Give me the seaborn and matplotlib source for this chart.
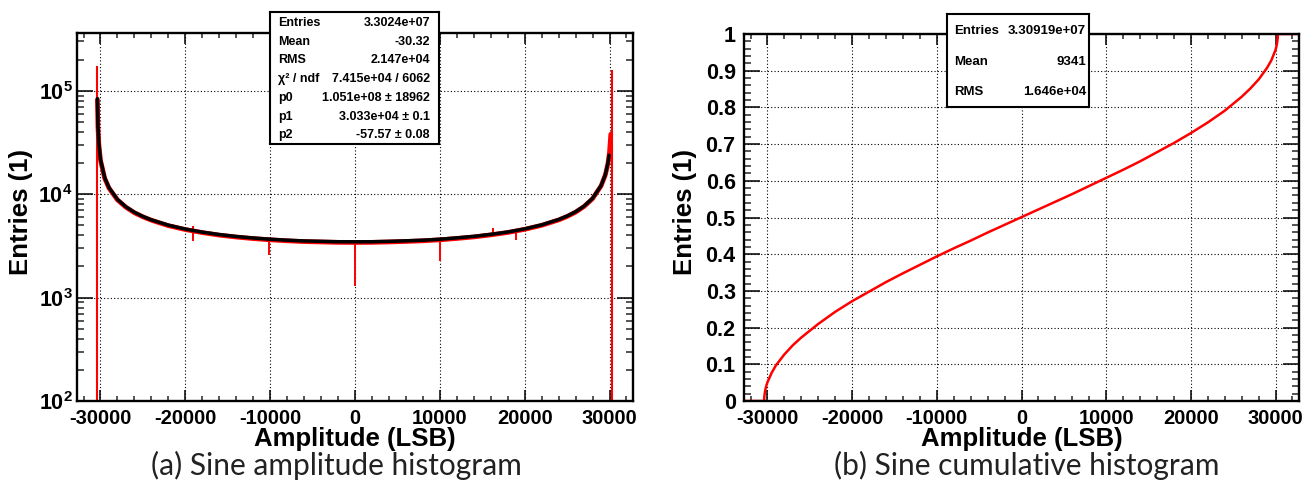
import numpy as np
import pandas as pd
import matplotlib
matplotlib.use("Agg")
import matplotlib.pyplot as plt
import seaborn as sns
from matplotlib.ticker import MultipleLocator, LogLocator, NullFormatter, FixedLocator, FixedFormatter

# ---------------- data ----------------
# (a) amplitude histogram: body of the histogram (red)
hist_x = [-30360, -30300, -30200, -30000, -29500, -29000, -28000, -27000, -26000, -25000,
          -24000, -22000, -20000, -18000, -16000, -14000, -12000, -10000, -8000, -6000,
          -4000, -2000, 0, 2000, 4000, 6000, 8000, 10000, 12000, 14000, 16000, 18000,
          20000, 22000, 24000, 25000, 26000, 27000, 28000, 29000, 29500, 29800, 30000,
          30150]
hist_y = [82000, 45000, 30800, 21300, 14200, 11450, 8800, 7480, 6610, 6040,
          5600, 4960, 4550, 4250, 4020, 3850, 3720, 3620, 3540, 3480,
          3450, 3420, 3410, 3420, 3450, 3490, 3540, 3620, 3730, 3860, 4040, 4260,
          4570, 5000, 5630, 6090, 6700, 7600, 9050, 12000, 15300, 19500, 25600,
          38000]
# edge bins (tall spikes)
spike_x = [-30390, 30280]
spike_top = [175000, 160000]
# isolated missing / extra codes
dip_x = [-19070, -10100, 0, 10020, 16270, 18990]
dip_hi = [4900, 3700, 3460, 3680, 4720, 4320]
dip_lo = [3530, 2570, 1285, 2260, 4080, 3580]
# fit curve (black)
fit_x = [-30360, -30300, -30200, -30000, -29500, -29000, -28000, -27000, -26000, -25000,
         -24000, -22000, -20000, -18000, -16000, -14000, -12000, -10000, -8000, -6000,
         -4000, -2000, 0, 2000, 4000, 6000, 8000, 10000, 12000, 14000, 16000, 18000,
         20000, 22000, 24000, 25000, 26000, 27000, 28000, 29000, 29500, 29800, 29950]
fit_y = [84000, 45500, 31200, 21700, 14400, 11600, 8900, 7550, 6690, 6090,
         5650, 5020, 4600, 4300, 4070, 3900, 3770, 3670, 3590, 3530,
         3500, 3470, 3465, 3470, 3500, 3540, 3590, 3670, 3780, 3910, 4090, 4310,
         4620, 5050, 5690, 6150, 6770, 7670, 9120, 12100, 15400, 19700, 23800]

# (b) cumulative histogram
cum_x = [-32768, -30390, -30360, -30300, -30200, -30000, -29500, -29000, -28000, -27000,
         -26000, -24000, -22000, -20000, -18000, -16000, -14000, -12000, -10000, -8000,
         -6000, -4000, -2000, 0, 2000, 4000, 6000, 8000, 10000, 12000, 14000, 16000,
         18000, 20000, 22000, 24000, 26000, 27000, 28000, 29000, 29500, 30000, 30150,
         30250, 30280, 32768]
cum_y = [0, 0, 0.014, 0.024, 0.036, 0.051, 0.077, 0.097, 0.127, 0.152,
         0.173, 0.210, 0.243, 0.272, 0.298, 0.324, 0.348, 0.371, 0.394, 0.416,
         0.437, 0.459, 0.480, 0.501, 0.522, 0.543, 0.564, 0.586, 0.608, 0.630, 0.653, 0.678,
         0.703, 0.730, 0.759, 0.791, 0.829, 0.851, 0.876, 0.908, 0.928, 0.957, 0.971,
         0.988, 1.0, 1.0]

x_ticks = [-30000, -20000, -10000, 0, 10000, 20000, 30000]
x_ticklabels = ["-30000", "-20000", "-10000", "0", "10000", "20000", "30000"]
log_ticks = [1e2, 1e3, 1e4, 1e5]
log_ticklabels = [r"$\mathbf{10^{2}}$", r"$\mathbf{10^{3}}$", r"$\mathbf{10^{4}}$", r"$\mathbf{10^{5}}$"]
lin_ticks = [0, 0.1, 0.2, 0.3, 0.4, 0.5, 0.6, 0.7, 0.8, 0.9, 1.0]
lin_ticklabels = ["0", "0.1", "0.2", "0.3", "0.4", "0.5", "0.6", "0.7", "0.8", "0.9", "1"]

stats_a_labels = ["Entries", "Mean", "RMS", "\u03c7\u00b2 / ndf", "p0", "p1", "p2"]
stats_a_values = ["3.3024e+07", "-30.32", "2.147e+04", "7.415e+04 / 6062",
                  "1.051e+08 \u00b1 18962", "3.033e+04 \u00b1 0.1", "-57.57 \u00b1 0.08"]
stats_b_labels = ["Entries", "Mean", "RMS"]
stats_b_values = ["3.30919e+07", "9341", "1.646e+04"]

x_label = "Amplitude (LSB)"
y_label = "Entries (1)"
caption_a = "(a) Sine amplitude histogram"
caption_b = "(b) Sine cumulative histogram"

# ---------------- style ----------------
sns.set_theme(style="white")
FONT = ["Liberation Sans", "DejaVu Sans"]
plt.rcParams["font.family"] = FONT
plt.rcParams["font.weight"] = "bold"
plt.rcParams["axes.unicode_minus"] = False
plt.rcParams["mathtext.fontset"] = "custom"
plt.rcParams["mathtext.rm"] = "Liberation Sans:bold"
plt.rcParams["mathtext.bf"] = "Liberation Sans:bold"
plt.rcParams["mathtext.it"] = "Liberation Sans:bold"

W, H = 1311, 492
fig = plt.figure(figsize=(W / 100, H / 100), dpi=100)
fig.patch.set_facecolor("white")


def fr(x0, y0, x1, y1):
    return [x0 / W, 1 - y1 / H, (x1 - x0) / W, (y1 - y0) / H]


ax1 = fig.add_axes(fr(77, 33, 633, 401))
ax2 = fig.add_axes(fr(744, 34, 1299, 401))

XMIN, XMAX = -32768, 32768
grid_kw = dict(color="black", linestyle=(0, (1, 2)), linewidth=0.8)

# ---- panel (a) ----
ax1.set_yscale("log")
df_hist = pd.DataFrame({"x": hist_x, "y": hist_y})
df_fit = pd.DataFrame({"x": fit_x, "y": fit_y})
sns.lineplot(data=df_hist, x="x", y="y", ax=ax1, color="red", linewidth=3.4,
             estimator=None, sort=False, zorder=3)
ax1.vlines(spike_x, 1, spike_top, color="red", linewidth=1.5, zorder=3)
ax1.vlines(dip_x, dip_lo, dip_hi, color="red", linewidth=1.4, zorder=3)
sns.lineplot(data=df_fit, x="x", y="y", ax=ax1, color="black", linewidth=2.5,
             estimator=None, sort=False, zorder=4)
ax1.set_xlim(XMIN, XMAX)
ax1.set_ylim(100, 3.62e5)
ax1.yaxis.set_major_locator(FixedLocator(log_ticks))
ax1.yaxis.set_major_formatter(FixedFormatter(log_ticklabels))
ax1.yaxis.set_minor_locator(LogLocator(base=10, subs=np.arange(2, 10), numticks=20))
ax1.yaxis.set_minor_formatter(NullFormatter())

# ---- panel (b) ----
df_cum = pd.DataFrame({"x": cum_x, "y": cum_y})
sns.lineplot(data=df_cum, x="x", y="y", ax=ax2, color="red", linewidth=1.8,
             estimator=None, sort=False, zorder=3)
ax2.set_xlim(XMIN, XMAX)
ax2.set_ylim(0, 1)
ax2.yaxis.set_major_locator(FixedLocator(lin_ticks))
ax2.yaxis.set_major_formatter(FixedFormatter(lin_ticklabels))
ax2.yaxis.set_minor_locator(MultipleLocator(0.02))

for ax, ylx, ypad in ((ax1, -0.100, 3), (ax2, -0.106, 6)):
    ax.xaxis.set_major_locator(FixedLocator(x_ticks))
    ax.xaxis.set_major_formatter(FixedFormatter(x_ticklabels))
    ax.xaxis.set_minor_locator(MultipleLocator(2000))
    ax.grid(True, which="major", **grid_kw)
    ax.set_axisbelow(False)
    for s in ax.spines.values():
        s.set_linewidth(1.7)
        s.set_color("black")
        s.set_zorder(5)
    ax.tick_params(axis="x", which="major", direction="in", length=8, width=1.1,
                   top=True, bottom=True, pad=5.5, labelsize=14.5, colors="black")
    ax.tick_params(axis="x", which="minor", direction="in", length=3.8, width=1.1,
                   top=True, bottom=True)
    ax.tick_params(axis="y", which="major", direction="in", length=11.5, width=1.1,
                   left=True, right=True, pad=ypad, labelsize=15.5, colors="black")
    ax.tick_params(axis="y", which="minor", direction="in", length=5, width=1.1,
                   left=True, right=True)
    for lbl in ax.get_xticklabels() + ax.get_yticklabels():
        lbl.set_family(FONT)
        lbl.set_fontweight("bold")
    ax.set_xlabel(x_label, fontsize=18.5, fontweight="bold", color="black", family=FONT)
    ax.set_ylabel(y_label, fontsize=18.5, fontweight="bold", color="black", family=FONT)
    ax.xaxis.label.set_va("center")
    ax.yaxis.label.set_va("center")
    ax.xaxis.set_label_coords(0.5, (401 - 439) / 368)
    ax.yaxis.set_label_coords(ylx, 0.514)
    ax.set_facecolor("white")
    if ax.get_legend() is not None:
        ax.get_legend().remove()

# ---- stat boxes ----
def stat_box(x0, y0, x1, y1, labels, values, rows_y, lab_x, val_x, size):
    bx = fig.add_axes(fr(x0, y0, x1, y1))
    bx.set_xticks([])
    bx.set_yticks([])
    bx.set_facecolor("white")
    for s in bx.spines.values():
        s.set_linewidth(1.5)
        s.set_color("black")
    for lab, val, ry in zip(labels, values, rows_y):
        fig.text(lab_x / W, 1 - ry / H, lab, ha="left", va="center", family=FONT,
                 fontsize=size, fontweight="bold", color="black")
        fig.text(val_x / W, 1 - ry / H, val, ha="right", va="center", family=FONT,
                 fontsize=size, fontweight="bold", color="black")


stat_box(270, 12, 439.5, 143.5, stats_a_labels, stats_a_values,
         [23.3, 41.7, 60.0, 79.0, 98.3, 116.7, 135.0], 278, 430, 9)
stat_box(947, 14, 1089, 107, stats_b_labels, stats_b_values,
         [30.7, 61.7, 91.7], 954, 1086, 9.5)

# ---- captions ----
CAP = ["Lato", "DejaVu Sans"]
fig.text(336 / W, 1 - 465 / H, caption_a, ha="center", va="center",
         fontsize=21.5, fontweight="normal", family=CAP, color="#222222")
fig.text(1027 / W, 1 - 465 / H, caption_b, ha="center", va="center",
         fontsize=21.5, fontweight="normal", family=CAP, color="#222222")

fig.savefig("out.png", dpi=100, facecolor="white")
